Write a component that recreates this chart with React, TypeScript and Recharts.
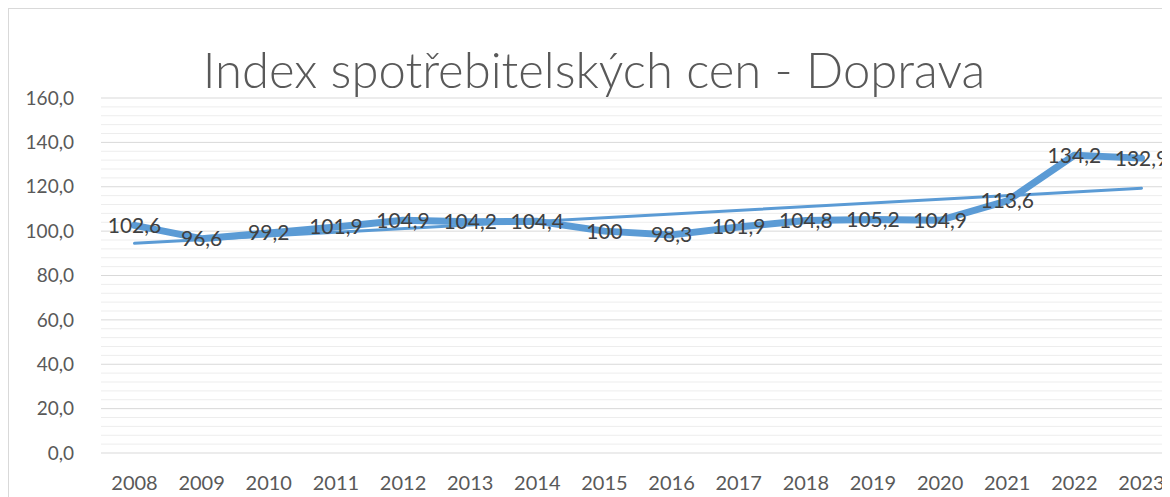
import React from 'react'
import { CartesianGrid, LabelList, Line, LineChart, ReferenceLine, XAxis, YAxis } from 'recharts'

const years = ['2008', '2009', '2010', '2011', '2012', '2013', '2014', '2015', '2016', '2017', '2018', '2019', '2020', '2021', '2022', '2023']
const cpi = [102.6, 96.6, 99.2, 101.9, 104.9, 104.2, 104.4, 100, 98.3, 101.9, 104.8, 105.2, 104.9, 113.6, 134.2, 132.9]
// linear trendline, only the two end values
const trend = [94.5, null, null, null, null, null, null, null, null, null, null, null, null, null, null, 119.3]
const yTicks = [0, 20, 40, 60, 80, 100, 120, 140, 160]

const data = years.map((year, i) => ({ year, cpi: cpi[i], trend: trend[i] }))

const minorLines: number[] = []
for (let v = 4; v < 160; v += 4) if (v % 20 !== 0) minorLines.push(v)

const BLUE = '#5B9BD5'
const FONT = 'Lato, "Open Sans", sans-serif'

const fmt = (v: any) => String(v).replace('.', ',')

export default function App() {
    return (
        <div style={{ position: 'relative', width: 1162, height: 489, overflow: 'hidden', fontFamily: FONT }}>
            <div style={{ position: 'absolute', left: 0, top: 0, width: 1200, height: 520, border: '1px solid #D9D9D9', boxSizing: 'border-box' }} />
            <div style={{ position: 'absolute', left: 1, top: 1 }}>
                <LineChart width={1180} height={488} data={data} margin={{ top: 89, right: 14, left: 0, bottom: 4 }}>
                    {minorLines.map(v => (
                        <ReferenceLine key={v} y={v} stroke="#EDEDED" strokeWidth={1} ifOverflow="hidden" />
                    ))}
                    <CartesianGrid vertical={false} stroke="#D9D9D9" />
                    <XAxis
                        dataKey="year"
                        axisLine={false}
                        tickLine={false}
                        tickSize={0}
                        tickMargin={23}
                        height={40}
                        interval={0}
                        padding={{ left: 33.5, right: 33.5 }}
                        tick={{ fill: '#595959', fontSize: 20, fontFamily: FONT }}
                    />
                    <YAxis
                        domain={[0, 160]}
                        ticks={yTicks}
                        axisLine={false}
                        tickLine={false}
                        tickSize={0}
                        tickMargin={27}
                        width={92}
                        tickFormatter={(v: number) => v.toFixed(1).replace('.', ',')}
                        tick={{ fill: '#595959', fontSize: 19, fontFamily: FONT }}
                    />
                    <Line dataKey="cpi" stroke="none" dot={false} isAnimationActive={false}>
                        <LabelList dataKey="cpi" position="center" formatter={fmt} fill="#404040" fontSize={21} fontFamily={FONT} />
                    </Line>
                    <Line
                        dataKey="cpi"
                        type="linear"
                        stroke={BLUE}
                        strokeWidth={7}
                        strokeLinecap="round"
                        strokeLinejoin="round"
                        dot={false}
                        isAnimationActive={false}
                    />
                    <Line
                        dataKey="trend"
                        type="linear"
                        stroke={BLUE}
                        strokeWidth={3}
                        strokeLinecap="round"
                        connectNulls
                        dot={false}
                        isAnimationActive={false}
                    />
                </LineChart>
            </div>
            <svg width={1162} height={120} style={{ position: 'absolute', left: 0, top: 0, pointerEvents: 'none' }}>
                <text x={586} y={80} textAnchor="middle" fill="#595959" fontSize={49} fontWeight={300} fontFamily={FONT}>
                    Index spotřebitelských cen - Doprava
                </text>
            </svg>
        </div>
    )
}
